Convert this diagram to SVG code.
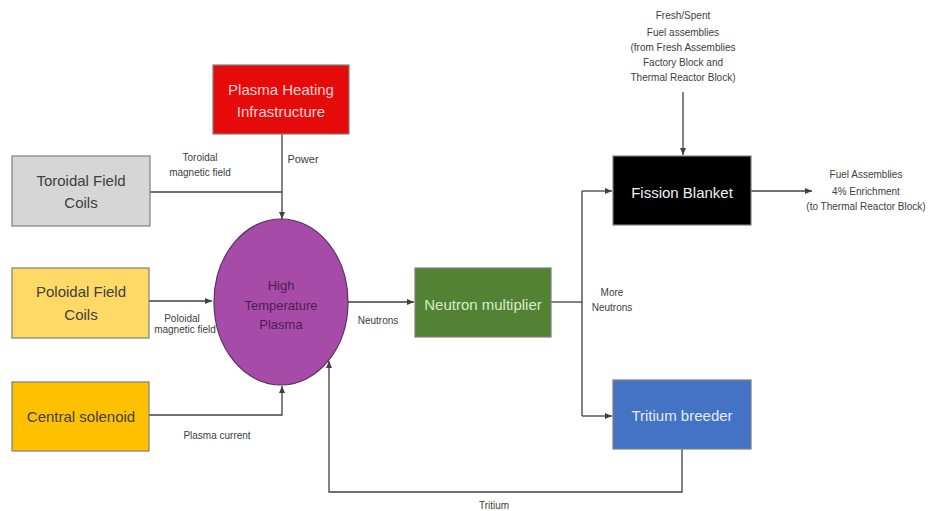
<svg xmlns="http://www.w3.org/2000/svg" width="929" height="511" viewBox="0 0 929 511">
<style>
.box{stroke:#7f7f7f;stroke-width:1.2}
.t{font-family:"Liberation Sans",Arial,sans-serif;font-size:15px;text-anchor:middle}
.s{font-family:"Liberation Sans",Arial,sans-serif;font-size:10px;text-anchor:middle;fill:#404040}
.c{fill:none;stroke:#404040;stroke-width:1.3}
</style>
<defs>
<marker id="ah" markerUnits="userSpaceOnUse" markerWidth="8" markerHeight="8" refX="7" refY="4" orient="auto">
<path d="M0,1 L7,4 L0,7 Z" fill="#404040"/>
</marker>
</defs>
<rect width="929" height="511" fill="#ffffff"/>
<g id="connectors">
<path class="c" d="M282,134 V219" marker-end="url(#ah)"/>
<path class="c" d="M150,192 H282"/>
<path class="c" d="M149,301 H212" marker-end="url(#ah)"/>
<path class="c" d="M149,415 H282 V386" marker-end="url(#ah)"/>
<path class="c" d="M348,302 H414" marker-end="url(#ah)"/>
<path class="c" d="M551,302 H582"/>
<path class="c" d="M582,191 V416"/>
<path class="c" d="M582,191 H612" marker-end="url(#ah)"/>
<path class="c" d="M582,416 H612" marker-end="url(#ah)"/>
<path class="c" d="M683,92 V155" marker-end="url(#ah)"/>
<path class="c" d="M751,191 H812" marker-end="url(#ah)"/>
<path class="c" d="M682,449 V492 H329 V361" marker-end="url(#ah)"/>
<text class="s" x="200" y="161">Toroidal</text>
<text class="s" x="200" y="176">magnetic field</text>
<text class="s" x="303" y="163" style="font-size:11px">Power</text>
<text class="s" x="182" y="322">Poloidal</text>
<text class="s" x="185" y="333">magnetic field</text>
<text class="s" x="217" y="439">Plasma current</text>
<text class="s" x="378" y="324">Neutrons</text>
<text class="s" x="612" y="296">More</text>
<text class="s" x="612" y="311">Neutrons</text>
<text class="s" x="683" y="19">Fresh/Spent</text>
<text class="s" x="683" y="36">Fuel assemblies</text>
<text class="s" x="683" y="51">(from Fresh Assemblies</text>
<text class="s" x="683" y="66">Factory Block and</text>
<text class="s" x="683" y="81">Thermal Reactor Block)</text>
<text class="s" x="866" y="178">Fuel Assemblies</text>
<text class="s" x="866" y="195">4% Enrichment</text>
<text class="s" x="866" y="210">(to Thermal Reactor Block)</text>
<text class="s" x="494" y="509">Tritium</text>
</g>
<g id="plasma-heating">
<rect class="box" x="213" y="65" width="136" height="69" fill="#e60b0b" stroke="#b0b0b0"/>
<text class="t" x="281" y="95" fill="#ffd0d0">Plasma Heating</text>
<text class="t" x="281" y="117" fill="#ffd0d0">Infrastructure</text>
</g>
<g id="toroidal">
<rect class="box" x="12" y="156" width="138" height="70" fill="#d6d6d6"/>
<text class="t" x="81" y="186" fill="#404040">Toroidal Field</text>
<text class="t" x="81" y="208" fill="#404040">Coils</text>
</g>
<g id="poloidal">
<rect class="box" x="12" y="268" width="137" height="70" fill="#ffd966"/>
<text class="t" x="81" y="297" fill="#404040">Poloidal Field</text>
<text class="t" x="81" y="320" fill="#404040">Coils</text>
</g>
<g id="solenoid">
<rect class="box" x="12" y="382" width="137" height="69" fill="#ffc000"/>
<text class="t" x="81" y="422" fill="#404040">Central solenoid</text>
</g>
<g id="plasma">
<ellipse cx="281" cy="302" rx="67" ry="83" fill="#a64ca8" stroke="#5a3060" stroke-width="1.2"/>
<text class="t" x="281" y="290" fill="#4a1f50" style="font-size:13px">High</text>
<text class="t" x="281" y="310" fill="#4a1f50" style="font-size:13px">Temperature</text>
<text class="t" x="281" y="329" fill="#4a1f50" style="font-size:13px">Plasma</text>
</g>
<g id="neutron-multiplier">
<rect class="box" x="415" y="268" width="136" height="69" fill="#548235"/>
<text class="t" x="483" y="310" fill="#d5ecc8">Neutron multiplier</text>
</g>
<g id="fission-blanket">
<rect class="box" x="613" y="156" width="138" height="69" fill="#000000"/>
<text class="t" x="682" y="198" fill="#f0f0f0">Fission Blanket</text>
</g>
<g id="tritium-breeder">
<rect class="box" x="613" y="380" width="138" height="69" fill="#4472c4"/>
<text class="t" x="682" y="421" fill="#e3ebf8">Tritium breeder</text>
</g>
</svg>
